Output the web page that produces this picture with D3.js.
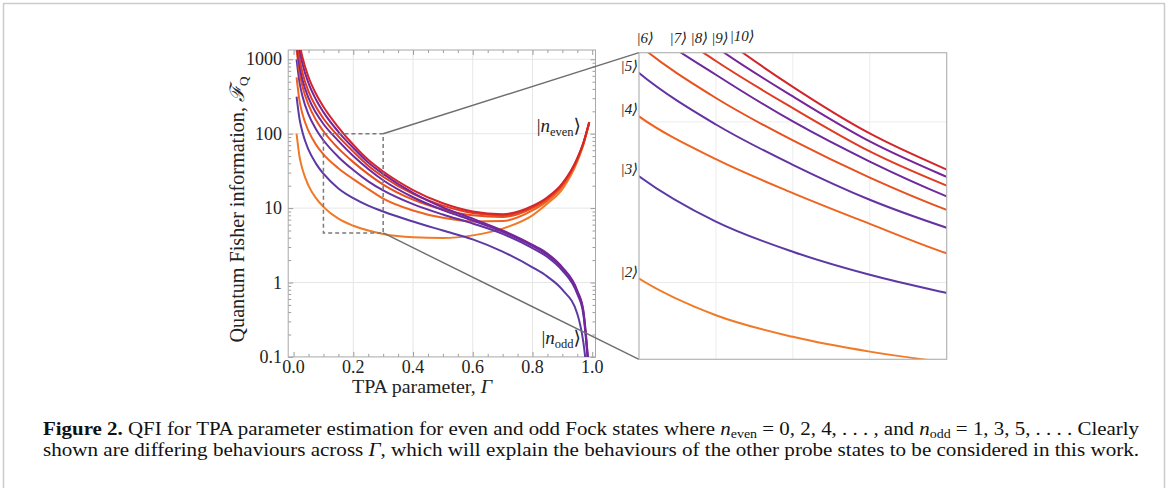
<!DOCTYPE html>
<html>
<head>
<meta charset="utf-8">
<script src="https://cdn.jsdelivr.net/npm/d3@7"></script>
<style>
  body { margin: 0; background: #fff; }
  svg { display: block; font-family: "Liberation Serif", "DejaVu Serif", serif; }
</style>
</head>
<body>
<svg id="fig" width="1168" height="488"></svg>
<script>
var gammas = [0.01, 0.02, 0.03, 0.05, 0.075, 0.1, 0.15, 0.2, 0.25, 0.3, 0.4, 0.5, 0.6, 0.7, 0.8, 0.85, 0.9, 0.95, 0.97, 0.99];

// QFI of each Fock state |n>
var qfi2  = [100, 49, 33, 20, 13.6, 10.4, 7.2, 5.8, 5.0, 4.5, 4.05, 3.95, 4.3, 5.3, 8.0, 11.5, 18, 42, 70, 140];
var qfi3  = [315, 157, 104, 61, 39.6, 29, 18.4, 13.6, 10.8, 9.0, 6.6, 5.0, 3.8, 2.6, 1.6, 1.2, 0.8, 0.38, 0.16, 0.03];
var qfi4  = [570, 276, 183, 109, 71.4, 52.8, 34.4, 24.5, 18.0, 13.4, 9.3, 7.4, 6.6, 6.7, 9.3, 12.5, 19.5, 44, 72, 141];
var qfi5  = [995, 487, 317, 182, 115, 81.6, 48.7, 32.5, 22.9, 17.3, 11.3, 8.2, 6.2, 4.5, 2.9, 2.2, 1.45, 0.7, 0.38, 0.05];
var qfi6  = [1350, 660, 429, 245, 153, 108, 63.5, 41.5, 28.6, 20.7, 13.0, 9.6, 8.0, 7.6, 10.0, 13.2, 20.5, 45, 73, 142];
var qfi7  = [1660, 811, 528, 303, 191, 135, 80.2, 50.2, 33.6, 23.7, 14.0, 9.4, 6.8, 4.8, 3.1, 2.35, 1.55, 0.75, 0.41, 0.055];
var qfi8  = [2090, 1014, 656, 371, 230, 160, 92, 57.4, 37.2, 26.4, 15.5, 10.8, 8.6, 8.0, 10.4, 13.6, 21, 46, 74, 143];
var qfi9  = [2810, 1350, 865, 478, 288, 195, 106, 64.5, 41.1, 28.8, 16.0, 10.2, 7.2, 5.0, 3.2, 2.45, 1.6, 0.78, 0.43, 0.06];
var qfi10 = [3480, 1660, 1057, 579, 344, 230, 122, 71, 44.5, 31.0, 17.5, 11.6, 9.0, 8.3, 10.7, 14, 21.5, 47, 75, 144];

var states = [2, 3, 4, 5, 6, 7, 8, 9, 10];
var series = [qfi2, qfi3, qfi4, qfi5, qfi6, qfi7, qfi8, qfi9, qfi10];
var colors = ["#f07a28", "#5b3aa6", "#ef6420", "#6432a2", "#e8501e", "#6c2a9e", "#e03c22", "#76269a", "#d2262c"];

// axis ticks
var xTicks = [0, 0.2, 0.4, 0.6, 0.8, 1.0];
var xTickLabels = ["0.0", "0.2", "0.4", "0.6", "0.8", "1.0"];
var yTicks = [0.1, 1, 10, 100, 1000];
var yTickLabels = ["0.1", "1", "10", "100", "1000"];

// zoomed window shown in the inset
var boxGamma = [0.1, 0.3];
var boxQfi = [4.63, 100];

var svg = d3.select("#fig");

svg.append("rect")
  .attr("x", 3.5).attr("y", 3.5).attr("width", 1161).attr("height", 500)
  .attr("fill", "none").attr("stroke", "#cbcbcb").attr("stroke-width", 1.5);

// ---------- main plot ----------
var x = d3.scaleLinear().domain([-0.018, 1.011]).range([288.2, 595.5]);
var y = d3.scaleLog().domain([0.1, 1334]).range([356.9, 50]);
var L = x.range()[0], R = x.range()[1], T = y.range()[1], B = y.range()[0];

var main = svg.append("g");

main.append("clipPath").attr("id", "clipMain").append("rect")
  .attr("x", L).attr("y", T).attr("width", R - L).attr("height", B - T);

main.selectAll(".gx").data([0.2, 0.4, 0.6, 0.8]).enter().append("line")
  .attr("x1", d => x(d)).attr("x2", d => x(d)).attr("y1", T).attr("y2", B)
  .attr("stroke", "#e6e6e6").attr("stroke-width", 1);
main.selectAll(".gy").data([1, 10, 100, 1000]).enter().append("line")
  .attr("x1", L).attr("x2", R).attr("y1", d => y(d)).attr("y2", d => y(d))
  .attr("stroke", "#e6e6e6").attr("stroke-width", 1);

var xMinor = d3.range(0, 1.001, 0.05).filter(v => Math.abs(v * 5 - Math.round(v * 5)) > 1e-6);
var yMinor = [];
[0.1, 1, 10, 100, 1000].forEach(function(dec) {
  for (var k = 2; k <= 9; k++) if (dec * k < 1334) yMinor.push(dec * k);
});

function ticks(axisFn, scale, vals, len, tx, ty) {
  main.append("g").attr("transform", "translate(" + tx + "," + ty + ")")
    .call(axisFn(scale).tickValues(vals).tickSize(-len).tickFormat(""))
    .call(g => g.select(".domain").remove())
    .selectAll("line").attr("stroke", "#9c9c9c");
}
ticks(d3.axisBottom, x, xTicks, 5, 0, B);
ticks(d3.axisBottom, x, xMinor, 3, 0, B);
ticks(d3.axisTop, x, xTicks, 5, 0, T);
ticks(d3.axisTop, x, xMinor, 3, 0, T);
ticks(d3.axisLeft, y, yTicks, 5, L, 0);
ticks(d3.axisLeft, y, yMinor, 3, L, 0);
ticks(d3.axisRight, y, yTicks, 5, R, 0);
ticks(d3.axisRight, y, yMinor, 3, R, 0);

main.append("rect")
  .attr("x", L).attr("y", T).attr("width", R - L).attr("height", B - T)
  .attr("fill", "none").attr("stroke", "#a8a8a8").attr("stroke-width", 1);

var lineMain = d3.line()
  .x((d, i) => x(gammas[i]))
  .y(d => y(d))
  .curve(d3.curveMonotoneX);

main.append("g").attr("clip-path", "url(#clipMain)")
  .selectAll("path").data(series).enter().append("path")
  .attr("d", lineMain)
  .attr("fill", "none")
  .attr("stroke", (d, i) => colors[i])
  .attr("stroke-width", 2);

main.selectAll(".xl").data(xTicks).enter().append("text")
  .attr("x", d => x(d)).attr("y", 373)
  .attr("text-anchor", "middle").attr("font-size", 18).attr("fill", "#222")
  .text((d, i) => xTickLabels[i]);
main.selectAll(".yl").data(yTicks).enter().append("text")
  .attr("x", 282).attr("y", d => y(d) + 6)
  .attr("text-anchor", "end").attr("font-size", 18).attr("fill", "#222")
  .text((d, i) => yTickLabels[i]);

var xt = main.append("text").attr("x", 422).attr("y", 393)
  .attr("text-anchor", "middle").attr("font-size", 18.5).attr("fill", "#222")
  .attr("textLength", 140).attr("lengthAdjust", "spacingAndGlyphs");
xt.append("tspan").text("TPA parameter, ");
xt.append("tspan").attr("font-style", "italic").text("Γ");

var yt = main.append("text")
  .attr("transform", "translate(244," + ((T + B) / 2 + 6) + ") rotate(-90)")
  .attr("text-anchor", "middle").attr("font-size", 20).attr("fill", "#222")
  .attr("textLength", 266).attr("lengthAdjust", "spacingAndGlyphs");
yt.append("tspan").text("Quantum Fisher information, ");
yt.append("tspan").attr("font-style", "italic").text("ℱ");
yt.append("tspan").attr("font-size", 13).attr("dy", 4).text("Q");

function ketLabel(g, sub, xx, yy) {
  var t = g.append("text").attr("x", xx).attr("y", yy)
    .attr("text-anchor", "end").attr("font-size", 19).attr("fill", "#222");
  t.append("tspan").text("|");
  t.append("tspan").attr("font-style", "italic").text("n");
  t.append("tspan").attr("font-size", 12.5).attr("dy", 4).text(sub);
  t.append("tspan").attr("dy", -4).text("⟩");
}
ketLabel(main, "even", 581, 132);
ketLabel(main, "odd", 581, 344);

// dashed zoom box and connector lines
main.append("rect")
  .attr("x", x(boxGamma[0])).attr("y", y(boxQfi[1]))
  .attr("width", x(boxGamma[1]) - x(boxGamma[0]))
  .attr("height", y(boxQfi[0]) - y(boxQfi[1]))
  .attr("fill", "none").attr("stroke", "#7a7a7a").attr("stroke-width", 1.5)
  .attr("stroke-dasharray", "4,3");

// ---------- inset ----------
var xi = d3.scaleLinear().domain(boxGamma).range([639, 946.7]);
var yi = d3.scaleLog().domain(boxQfi).range([359.3, 52.7]);
var iL = 639, iR = 946.7, iT = 52.7, iB = 359.3;

svg.append("line").attr("x1", x(boxGamma[1])).attr("y1", y(boxQfi[1]))
  .attr("x2", iL).attr("y2", iT).attr("stroke", "#6e6e6e").attr("stroke-width", 1.4);
svg.append("line").attr("x1", x(boxGamma[1])).attr("y1", y(boxQfi[0]))
  .attr("x2", iL).attr("y2", iB).attr("stroke", "#6e6e6e").attr("stroke-width", 1.4);

var inset = svg.append("g");
inset.append("clipPath").attr("id", "clipInset").append("rect")
  .attr("x", iL).attr("y", iT).attr("width", iR - iL).attr("height", iB - iT);

inset.selectAll(".gx").data([0.15, 0.2, 0.25]).enter().append("line")
  .attr("x1", d => xi(d)).attr("x2", d => xi(d)).attr("y1", iT).attr("y2", iB)
  .attr("stroke", "#ececec").attr("stroke-width", 1);
inset.selectAll(".gy").data([10, 50]).enter().append("line")
  .attr("x1", iL).attr("x2", iR).attr("y1", d => yi(d)).attr("y2", d => yi(d))
  .attr("stroke", "#ececec").attr("stroke-width", 1);

var lineInset = d3.line()
  .x((d, i) => xi(gammas[i]))
  .y(d => yi(d))
  .curve(d3.curveMonotoneX);

inset.append("g").attr("clip-path", "url(#clipInset)")
  .selectAll("path").data(series).enter().append("path")
  .attr("d", lineInset)
  .attr("fill", "none")
  .attr("stroke", (d, i) => colors[i])
  .attr("stroke-width", 2);

inset.append("rect")
  .attr("x", iL).attr("y", iT).attr("width", iR - iL).attr("height", iB - iT)
  .attr("fill", "none").attr("stroke", "#b4b4b4").attr("stroke-width", 1.2);

// where a curve enters through the top of the inset
function entry(vals, level) {
  for (var i = 0; i < vals.length - 1; i++) {
    if (vals[i] >= level && vals[i + 1] < level) {
      var t = Math.log(vals[i] / level) / Math.log(vals[i] / vals[i + 1]);
      return gammas[i] + t * (gammas[i + 1] - gammas[i]);
    }
  }
  return boxGamma[0];
}

var i0 = gammas.indexOf(boxGamma[0]);
var prevRight = -Infinity;
states.forEach(function(n, k) {
  var vals = series[k];
  var t = inset.append("text").attr("font-size", 15).attr("fill", "#222")
    .attr("font-style", "italic").text("|" + n + "⟩");
  if (vals[i0] <= boxQfi[1]) {
    t.attr("x", iL - 1).attr("y", yi(vals[i0]) - 2).attr("text-anchor", "end");
  } else {
    var w = t.node().getComputedTextLength();
    var left = Math.max(xi(entry(vals, boxQfi[1])) - 5 - w / 2, prevRight + 1);
    t.attr("x", left).attr("y", iT - 10 - (n >= 10 ? 2 : 0)).attr("text-anchor", "start");
    prevRight = left + w;
  }
});

// ---------- caption ----------
var cap1 = svg.append("text").attr("x", 43).attr("y", 435)
  .attr("font-size", 18).attr("fill", "#111")
  .attr("textLength", 1096).attr("lengthAdjust", "spacingAndGlyphs");
cap1.append("tspan").attr("font-weight", "bold").text("Figure 2.");
cap1.append("tspan").text(" QFI for TPA parameter estimation for even and odd Fock states where ");
cap1.append("tspan").attr("font-style", "italic").text("n");
cap1.append("tspan").attr("font-size", 12).attr("dy", 3).text("even");
cap1.append("tspan").attr("dy", -3).text(" = 0, 2, 4, . . . , and ");
cap1.append("tspan").attr("font-style", "italic").text("n");
cap1.append("tspan").attr("font-size", 12).attr("dy", 3).text("odd");
cap1.append("tspan").attr("dy", -3).text(" = 1, 3, 5, . . . . Clearly");

var cap2 = svg.append("text").attr("x", 43).attr("y", 456)
  .attr("font-size", 18).attr("fill", "#111")
  .attr("textLength", 1096).attr("lengthAdjust", "spacingAndGlyphs");
cap2.append("tspan").text("shown are differing behaviours across ");
cap2.append("tspan").attr("font-style", "italic").text("Γ");
cap2.append("tspan").text(", which will explain the behaviours of the other probe states to be considered in this work.");
</script>
</body>
</html>
